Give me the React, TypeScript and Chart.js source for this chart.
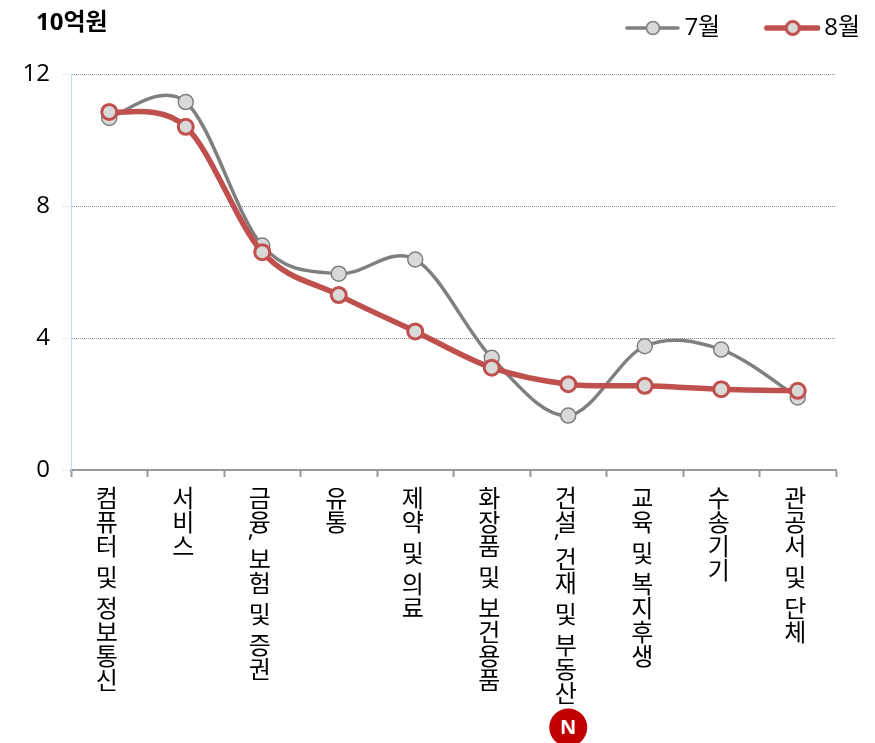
import React, { useEffect, useRef } from "react";
import { Chart, registerables } from "chart.js";

Chart.register(...registerables);

const categories = ["컴퓨터 및 정보통신", "서비스", "금융, 보험 및 증권", "유통", "제약 및 의료", "화장품 및 보건용품", "건설, 건재 및 부동산", "교육 및 복지후생", "수송기기", "관공서 및 단체"];
const july = [10.67, 11.15, 6.8, 5.95, 6.38, 3.4, 1.65, 3.75, 3.65, 2.2];
const august = [10.85, 10.4, 6.6, 5.3, 4.2, 3.1, 2.6, 2.55, 2.45, 2.4];
const yTicks = [0, 4, 8, 12];
const unitLabel = "10억원";
const badgeCategory = "건설, 건재 및 부동산";
const badgeText = "N";

const FONT = '"Open Sans", "Noto Sans CJK KR", sans-serif';
const GRAY = "#7f7f7f";
const RED = "#c0504d";
const MARKER = "#d9d9d9";

function legendSwatch(color: string, lw: number, bw: number) {
  const c = document.createElement("canvas");
  c.width = 62;
  c.height = 22;
  const x = c.getContext("2d")!;
  x.strokeStyle = color;
  x.lineWidth = lw;
  x.lineCap = "round";
  x.beginPath();
  x.moveTo(9, 11);
  x.lineTo(60, 11);
  x.stroke();
  x.beginPath();
  x.arc(35, 11, 6.5, 0, Math.PI * 2);
  x.fillStyle = MARKER;
  x.fill();
  x.lineWidth = bw;
  x.stroke();
  return c;
}

const smoothing = {
  id: "smoothing",
  beforeDatasetsDraw(chart: any) {
    chart.data.datasets.forEach((_: any, di: number) => {
      const line = chart.getDatasetMeta(di).dataset;
      const pts = line.points;
      pts.forEach((p: any, i: number) => {
        const prev = pts[Math.max(i - 1, 0)];
        const next = pts[Math.min(i + 1, pts.length - 1)];
        const k = 1 / 6;
        p.cp1x = p.x - (next.x - prev.x) * k;
        p.cp1y = p.y - (next.y - prev.y) * k;
        p.cp2x = p.x + (next.x - prev.x) * k;
        p.cp2y = p.y + (next.y - prev.y) * k;
      });
      line._pointsUpdated = true;
    });
  },
};

const decorations = {
  id: "decorations",
  afterLayout(chart: any) {
    const l = chart.legend;
    l.top -= 24;
    l.bottom -= 24;
    l.right += 69;
    l.left += 69;
  },
  afterDraw(chart: any) {
    const { ctx } = chart;
    const xs = chart.scales.x;
    ctx.save();
    ctx.fillStyle = "#000";
    ctx.font = `bold 24px ${FONT}`;
    ctx.textAlign = "left";
    ctx.textBaseline = "middle";
    ctx.fillText(unitLabel, 36, 23);

    ctx.font = `24px ${FONT}`;
    ctx.textAlign = "center";
    ctx.textBaseline = "middle";
    categories.forEach((label, i) => {
      const x = xs.getPixelForTick(i) - 2.5;
      let y = 500;
      for (const ch of Array.from(label)) {
        if (ch === " ") {
          y += 7;
        } else if (ch === ",") {
          ctx.fillText(ch, x - 9, y - 18);
          y += 6;
        } else {
          ctx.fillText(ch, x, y);
          y += 24;
        }
      }
      if (label === badgeCategory) {
        ctx.beginPath();
        ctx.fillStyle = "#c00000";
        ctx.arc(x + 2.5, 727.5, 19, 0, Math.PI * 2);
        ctx.fill();
        ctx.fillStyle = "#fff";
        ctx.font = `bold 20px ${FONT}`;
        ctx.fillText(badgeText, x + 2.5, 728);
        ctx.fillStyle = "#000";
        ctx.font = `24px ${FONT}`;
      }
    });
    ctx.restore();
  },
};

export default function App() {
  const ref = useRef<HTMLCanvasElement>(null);
  useEffect(() => {
    const chart = new Chart(ref.current!, {
      type: "line",
      plugins: [smoothing, decorations],
      data: {
        labels: categories,
        datasets: [
          {
            label: "8월",
            data: august,
            borderColor: RED,
            borderWidth: 5.5,
            tension: 0.4,
            pointRadius: 7.5,
            pointBorderWidth: 3,
            pointBackgroundColor: MARKER,
            pointBorderColor: RED,
          },
          {
            label: "7월",
            data: july,
            borderColor: GRAY,
            borderWidth: 3.5,
            tension: 0.4,
            pointRadius: 7.5,
            pointBorderWidth: 1.5,
            pointBackgroundColor: MARKER,
            pointBorderColor: GRAY,
          },
        ],
      },
      options: {
        animation: false,
        responsive: false,
        layout: { padding: { right: 39, top: -5 } },
        plugins: {
          tooltip: { enabled: false },
          legend: {
            position: "top",
            align: "end",
            labels: {
              color: "#000",
              font: { family: FONT, size: 24 },
              usePointStyle: true,
              pointStyleWidth: 47,
              boxHeight: 20,
              padding: 45,
              generateLabels: () => [
                { text: "7월", pointStyle: legendSwatch(GRAY, 3.5, 1.5), fontColor: "#000", datasetIndex: 1, lineWidth: 0, strokeStyle: "transparent", fillStyle: "transparent" },
                { text: "8월", pointStyle: legendSwatch(RED, 5.5, 3), fontColor: "#000", datasetIndex: 0, lineWidth: 0, strokeStyle: "transparent", fillStyle: "transparent" },
              ],
            },
          },
        },
        scales: {
          x: {
            type: "category",
            offset: true,
            afterFit: (s: any) => { s.height = 273; },
            border: { color: "#999999", width: 2 },
            grid: { offset: true, drawOnChartArea: false, drawTicks: true, tickLength: 7, tickColor: "#999999", tickWidth: 2 },
            ticks: { display: false },
          },
          y: {
            min: 0,
            max: 12,
            afterFit: (s: any) => { s.width = 71; },
            afterBuildTicks: (s: any) => { s.ticks = yTicks.map((value) => ({ value })); },
            border: { color: "#c6d9f1", width: 1, dash: [1, 1] },
            grid: { color: "#8c8c8c", lineWidth: 1, drawTicks: true, tickLength: 8, tickColor: "#c6d9f1", tickBorderDash: [1, 1], borderDash: [1, 1] },
            ticks: { color: "#000", font: { family: FONT, size: 24 }, padding: 13 },
          },
        },
      },
    } as any);
    return () => chart.destroy();
  }, []);
  return (
    <div style={{ position: "fixed", left: 0, top: 0, width: 875, height: 743, background: "#fff" }}>
      <canvas ref={ref} width={875} height={743} style={{ display: "block" }} />
    </div>
  );
}
